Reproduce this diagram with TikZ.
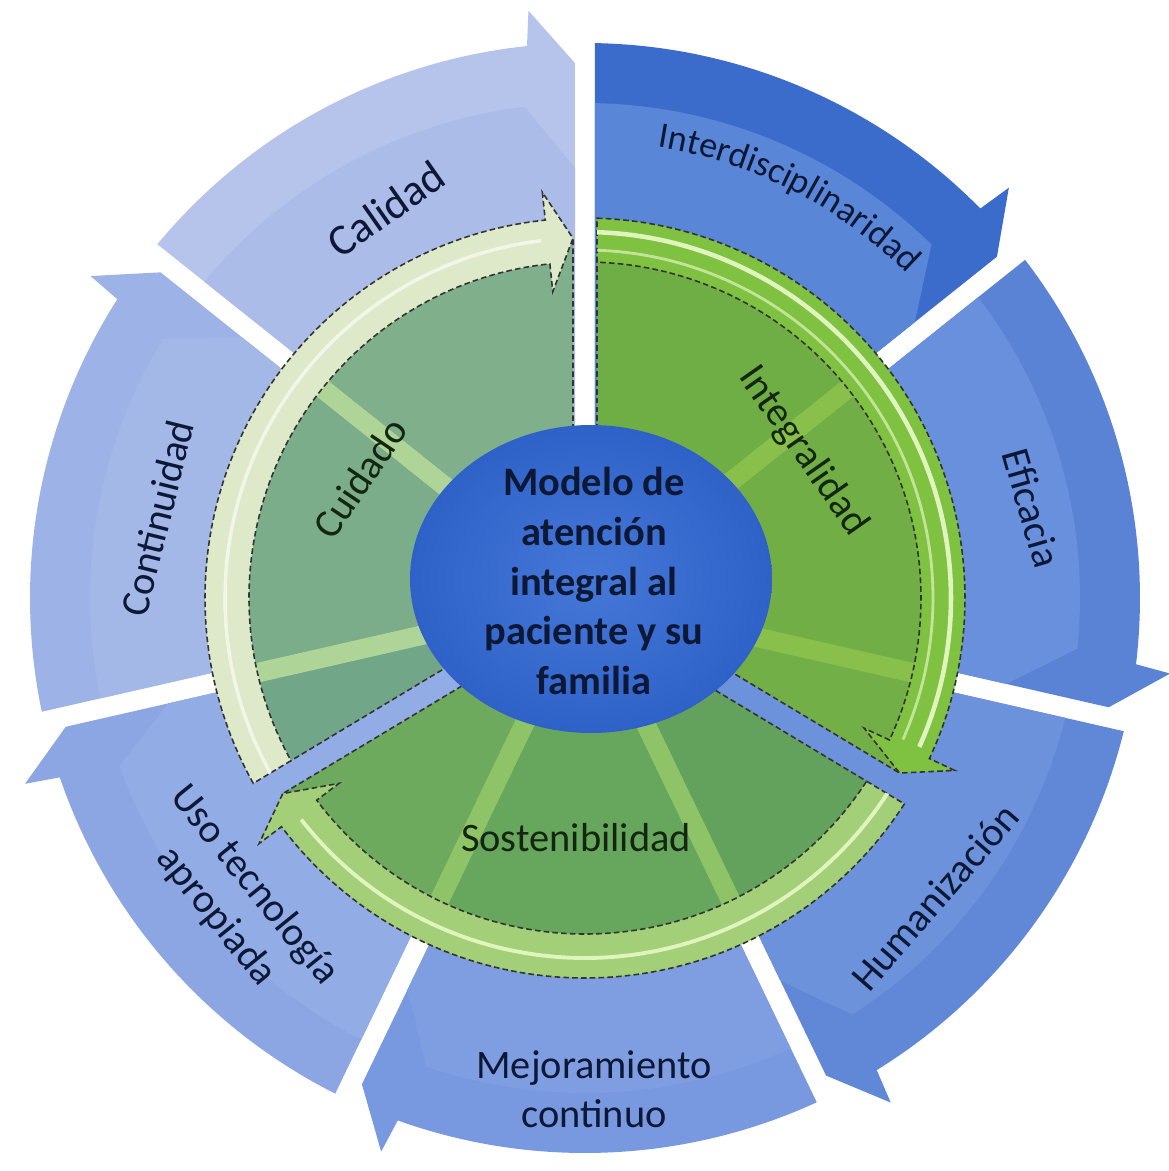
\documentclass[tikz,border=0pt]{standalone}
\usepackage{fontspec}
\setmainfont{Carlito}
\usepackage{xcolor}
\usepackage{tikz}
\usetikzlibrary{
    decorations.text
}

% outer ring colours (outer band / inner part)
\definecolor{interA}{HTML}{3B6BCB}
\definecolor{interB}{HTML}{5A86D8}
\definecolor{eficA}{HTML}{5A83D5}
\definecolor{eficB}{HTML}{6990DC}
\definecolor{humaA}{HTML}{6088D7}
\definecolor{humaB}{HTML}{6D92DC}
\definecolor{mejoA}{HTML}{7898DF}
\definecolor{mejoB}{HTML}{7F9EE1}
\definecolor{usoA}{HTML}{8BA6E3}
\definecolor{usoB}{HTML}{92ACE5}
\definecolor{contA}{HTML}{9DB2E6}
\definecolor{contB}{HTML}{A4B8E8}
\definecolor{caliA}{HTML}{B6C4EC}
\definecolor{caliB}{HTML}{ACBCE9}
% inner ring colours
\definecolor{cuidBody}{HTML}{4CA01B}
\definecolor{cuidBand}{HTML}{DDE9C8}
\definecolor{integBody}{HTML}{73B52C}
\definecolor{integBand}{HTML}{7FC141}
\definecolor{sostBody}{HTML}{5EAA26}
\definecolor{sostBand}{HTML}{A2CF78}
\definecolor{stripe}{HTML}{E0F4BE}
\definecolor{centreA}{HTML}{4678D8}
\definecolor{centreB}{HTML}{2F62C8}
\definecolor{labelink}{HTML}{0D1836}
\definecolor{sectorink}{HTML}{14260F}

% sizes of the outer ring
\def\ringOut{5.55}
\def\ringIn{0.9}
\def\ringTip{5.35}
\def\ringBarb{5.9}
\def\ringMid{4.95}
\def\ringGap{0.1}
% sizes of the inner ring
\def\grOut{3.8}
\def\grBand{3.36}
\def\grIn{0.9}
\def\grTip{3.6}
\def\grBarbO{4.08}
\def\grBarbI{3.08}
\def\grGap{0.12}

% outer ring arrow: tail angle, outer colour, inner colour
\newcommand{\cyclearrow}[3]{%
    \pgfmathsetmacro{\headang}{#1-51.4286}
    \fill[#2] ({#1-asin(\ringGap/\ringOut)}:\ringOut)
        arc[start angle={#1-asin(\ringGap/\ringOut)}, end angle={\headang+6}, radius=\ringOut]
        -- ({\headang+5.5}:\ringBarb) -- ({\headang+asin(\ringGap/\ringTip)}:\ringTip)
        -- ({\headang+asin(\ringGap/\ringIn)}:\ringIn)
        arc[start angle={\headang+asin(\ringGap/\ringIn)}, end angle={#1-asin(\ringGap/\ringIn)}, radius=\ringIn]
        -- cycle;
    \fill[#3] ({#1-asin(\ringGap/\ringMid)}:\ringMid)
        arc[start angle={#1-asin(\ringGap/\ringMid)}, end angle={\headang+7}, radius=\ringMid]
        -- ({\headang+asin(\ringGap/4.3)}:4.3)
        -- ({\headang+asin(\ringGap/\ringIn)}:\ringIn)
        arc[start angle={\headang+asin(\ringGap/\ringIn)}, end angle={#1-asin(\ringGap/\ringIn)}, radius=\ringIn]
        -- cycle;
}

% inner ring arrow: tail angle, head angle, body colour, body opacity, band colour
\newcommand{\greenarrow}[5]{%
    \fill[#3, fill opacity=#4]
        ({#1-asin(\grGap/\grIn)}:\grIn) -- ({#1-asin(\grGap/\grOut)}:\grOut)
        arc[start angle={#1-asin(\grGap/\grOut)}, end angle={#2+6}, radius=\grOut]
        -- ({#2+6}:\grBarbO) -- ({#2+asin(\grGap/\grTip)}:\grTip)
        -- ({#2+asin(\grGap/\grIn)}:\grIn)
        arc[start angle={#2+asin(\grGap/\grIn)}, end angle={#1-asin(\grGap/\grIn)}, radius=\grIn]
        -- cycle;
    \draw[greenedge] ({#1-asin(\grGap/\grIn)}:\grIn) -- ({#1-asin(\grGap/\grBand)}:\grBand);
    \draw[greenedge] ({#2+asin(\grGap/\grIn)}:\grIn) -- ({#2+asin(\grGap/\grTip)}:\grTip);
    \filldraw[greenedge, fill=#5]
        ({#1-asin(\grGap/\grBand)}:\grBand) -- ({#1-asin(\grGap/\grOut)}:\grOut)
        arc[start angle={#1-asin(\grGap/\grOut)}, end angle={#2+6}, radius=\grOut]
        -- ({#2+6}:\grBarbO) -- ({#2+asin(\grGap/\grTip)}:\grTip)
        -- ({#2+6}:\grBarbI) -- ({#2+6}:\grBand)
        arc[start angle={#2+6}, end angle={#1-asin(\grGap/\grBand)}, radius=\grBand]
        -- cycle;
}

\tikzset{
    greenedge/.style={draw=black!80, line width=0.45pt, dash pattern=on 1.6pt off 0.9pt},
    ringlabel/.style={font=\fontsize{11.5}{14}\selectfont, text=labelink, align=center, inner sep=0pt},
    sectorlabel/.style={font=\fontsize{11.5}{13.8}\selectfont, text=sectorink, inner sep=0pt},
    centrelabel/.style={font=\fontsize{11.5}{14.1}\selectfont\bfseries, text=labelink, align=center, inner sep=0pt}
}

\begin{document}
\begin{tikzpicture}
    \useasboundingbox (-5.85,-5.73) rectangle (5.83,5.98);

    % outer ring
    \cyclearrow{90}{interA}{interB}
    \cyclearrow{38.5714}{eficA}{eficB}
    \cyclearrow{-12.8571}{humaA}{humaB}
    \cyclearrow{-64.2857}{mejoA}{mejoB}
    \cyclearrow{-115.7143}{usoA}{usoB}
    \cyclearrow{-167.1429}{contA}{contB}
    \cyclearrow{141.4286}{caliA}{caliB}

    % inner ring
    \greenarrow{211}{90}{cuidBody}{0.45}{cuidBand}
    \greenarrow{90}{-31}{integBody}{0.85}{integBand}
    \greenarrow{-31}{-149}{sostBody}{0.7}{sostBand}
    \draw[white, opacity=0.6, line width=1pt] ({211-asin(\grGap/3.6)}:3.6) arc[start angle={211-asin(\grGap/3.6)}, end angle=97, radius=3.6];
    \draw[stripe, line width=1.3pt] ({90-asin(\grGap/3.66)}:3.66) arc[start angle={90-asin(\grGap/3.66)}, end angle=-24, radius=3.66];
    \draw[stripe, opacity=0.7, line width=0.8pt] ({90-asin(\grGap/3.48)}:3.48) arc[start angle={90-asin(\grGap/3.48)}, end angle=-24, radius=3.48];
    \draw[stripe, line width=1.1pt] ({-31-asin(\grGap/3.6)}:3.6) arc[start angle={-31-asin(\grGap/3.6)}, end angle=-142, radius=3.6];

    % centre
    \shade[inner color=centreA, outer color=centreB] (0.06,0.19) ellipse[x radius=1.81, y radius=1.54];
    \node[centrelabel] (modelo) at (0.09,0.17) {Modelo de\\atención\\integral al\\paciente y su\\familia};

    % labels of the inner ring
    \node[sectorlabel, rotate=56] (cuidado) at (-2.25,1.2) {Cuidado};
    \node[sectorlabel, rotate=-55] (integralidad) at (2.18,1.47) {Integralidad};
    \node[sectorlabel] (sostenibilidad) at (-0.09,-2.4) {Sostenibilidad};

    % labels of the outer ring
    \node[ringlabel, rotate=35, font=\fontsize{12.5}{14}\selectfont] (calidad) at (-1.99,3.89) {Calidad};
    \path[decorate, decoration={text along path, text align=center, text color=labelink,
        text={|\fontsize{10.3}{12}\selectfont|Interdisciplinaridad}}]
        (81.5:4.57) arc[start angle=81.5, end angle=44.5, radius=4.57];
    \node[ringlabel, rotate=-74] (eficacia) at (4.47,0.9) {Eficacia};
    \node[ringlabel, rotate=49] (humanizacion) at (3.5,-2.99) {Humanización};
    \node[ringlabel] (mejoramiento) at (0.09,-4.91) {Mejoramiento\\continuo};
    \node[ringlabel, rotate=-51] (uso) at (-3.5,-3.03) {Uso tecnología\\apropiada};
    \node[ringlabel, rotate=76] (continuidad) at (-4.28,0.8) {Continuidad};
\end{tikzpicture}
\end{document}
